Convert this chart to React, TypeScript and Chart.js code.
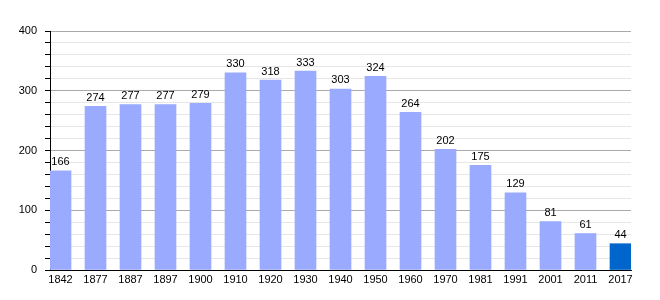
import React, { useEffect, useRef } from "react";
import { Chart, registerables } from "chart.js";

Chart.register(...registerables);

const years = ["1842","1877","1887","1897","1900","1910","1920","1930","1940","1950","1960","1970","1981","1991","2001","2011","2017"];
const population = [166,274,277,277,279,330,318,333,303,324,264,202,175,129,81,61,44];
const yTicks = [0, 100, 200, 300, 400];

const LIGHT = "#99aaff";
const DARK = "#0066cc";
const FONT = "'Liberation Sans', Arial, sans-serif";

const labelPlugin = {
  id: "barLabels",
  afterDatasetsDraw(chart: any) {
    const ctx = chart.ctx;
    const meta = chart.getDatasetMeta(0);
    ctx.save();
    ctx.font = `11px ${FONT}`;
    ctx.fillStyle = "#000";
    ctx.textAlign = "center";
    ctx.textBaseline = "bottom";
    meta.data.forEach((el: any, i: number) => {
      ctx.fillText(String(population[i]), el.x, el.y - 3);
    });
    ctx.restore();
  },
};

export default function App() {
  const ref = useRef<HTMLCanvasElement>(null);
  useEffect(() => {
    document.body.style.margin = "0";
    const chart = new Chart(ref.current!, {
      type: "bar",
      data: {
        datasets: [
          {
            data: population.map((v, i) => ({ x: i, y: v })),
            backgroundColor: population.map((_, i) => (i === population.length - 1 ? DARK : LIGHT)),
            barThickness: 21,
            borderWidth: 0,
          },
        ],
      },
      options: {
        animation: false,
        responsive: false,
        layout: { padding: { top: 31, right: 29, left: 0, bottom: 0 } },
        plugins: { legend: { display: false }, tooltip: { enabled: false } },
        scales: {
          x: {
            type: "linear",
            offset: false,
            min: -0.3,
            max: 16.3,
            afterBuildTicks: (s: any) => {
              s.ticks = years.map((_, i) => ({ value: i }));
            },
            ticks: {
              callback: (v: any) => years[v] ?? "",
              autoSkip: false,
              maxRotation: 0,
              color: "#000",
              font: { family: FONT, size: 11 },
              padding: 3,
            },
            grid: { display: false, drawTicks: false },
            border: { display: true, color: "#000", width: 1 },
            afterFit: (s: any) => { s.height = 30; },
          },
          y: {
            min: 0,
            max: 400,
            afterBuildTicks: (s: any) => {
              const t: any[] = [];
              for (let v = 0; v <= 400; v += 20) t.push({ value: v });
              s.ticks = t;
            },
            ticks: {
              callback: (v: any) => (yTicks.includes(v) ? String(v) : ""),
              autoSkip: false,
              color: "#000",
              font: { family: FONT, size: 11 },
              padding: 8,
            },
            grid: {
              color: (c: any) => (c.tick && c.tick.value % 100 === 0 ? "#aaaaaa" : "#e6e6e6"),
              tickColor: "#000",
              tickLength: 5,
              drawTicks: true,
            },
            border: { display: true, color: "#000", width: 1 },
            afterFit: (s: any) => { s.width = 50; },
          },
        },
      },
      plugins: [labelPlugin],
    });
    return () => chart.destroy();
  }, []);
  return (
    <div style={{ width: 660, height: 300 }}>
      <canvas ref={ref} width={660} height={300} style={{ display: "block" }} />
    </div>
  );
}
